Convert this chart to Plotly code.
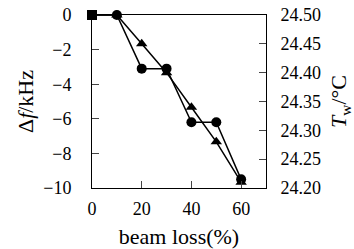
import plotly.graph_objects as go

beam_loss = [0, 10, 20, 30, 40, 50, 60]
delta_f = [0, 0, -3.1, -3.1, -6.2, -6.2, -9.5]
temp_w = [24.50, 24.50, 24.45, 24.40, 24.34, 24.28, 24.21]

x_ticks = [0, 20, 40, 60]
f_ticks = [0, -2, -4, -6, -8, -10]
t_ticks = [24.20, 24.25, 24.30, 24.35, 24.40, 24.45, 24.50]

FONT = "Liberation Serif"
fig = go.Figure()
fig.add_trace(go.Scatter(
    x=beam_loss, y=delta_f, mode="lines+markers",
    line=dict(color="black", width=1.5),
    marker=dict(symbol=["square"] + ["circle"] * 6, size=10, color="black"),
    cliponaxis=False, showlegend=False))
fig.add_trace(go.Scatter(
    x=beam_loss, y=temp_w, mode="lines+markers", yaxis="y2",
    line=dict(color="black", width=1.5),
    marker=dict(symbol=["square"] + ["triangle-up"] * 6, size=10, color="black"),
    cliponaxis=False, showlegend=False))

fig.update_layout(
    width=354, height=249,
    margin=dict(l=92, r=88, t=15, b=61, autoexpand=False),
    paper_bgcolor="white", plot_bgcolor="white",
    font=dict(family=FONT, size=18, color="black"),
    xaxis=dict(range=[0, 70], tickvals=x_ticks, ticks="inside", ticklen=7,
               showline=True, linecolor="black", linewidth=1, mirror=True,
               showgrid=False, zeroline=False, ticklabelstandoff=4,
               automargin=False, ticklabeloverflow="allow",
               title=dict(text="beam loss(%)", standoff=16)),
    yaxis=dict(range=[-10, 0], tickvals=f_ticks, ticks="inside", ticklen=7,
               showline=True, linecolor="black", linewidth=1,
               showgrid=False, zeroline=False, ticklabelstandoff=16,
               automargin=False, ticklabeloverflow="allow",
               title=dict(text="Δ<i>f</i>/kHz", standoff=3)),
    yaxis2=dict(range=[24.20, 24.50], tickvals=t_ticks, tickformat=".2f",
                overlaying="y", side="right", ticks="inside", ticklen=7,
                showline=True, linecolor="black", linewidth=1,
                showgrid=False, zeroline=False, ticklabelstandoff=10,
                automargin=False, ticklabeloverflow="allow",
                title=dict(text="<i>T</i><sub>w</sub>/°C", standoff=12)),
)
fig.write_html("out.html", config={"displayModeBar": False},
               post_script="document.body.style.margin='0';")
